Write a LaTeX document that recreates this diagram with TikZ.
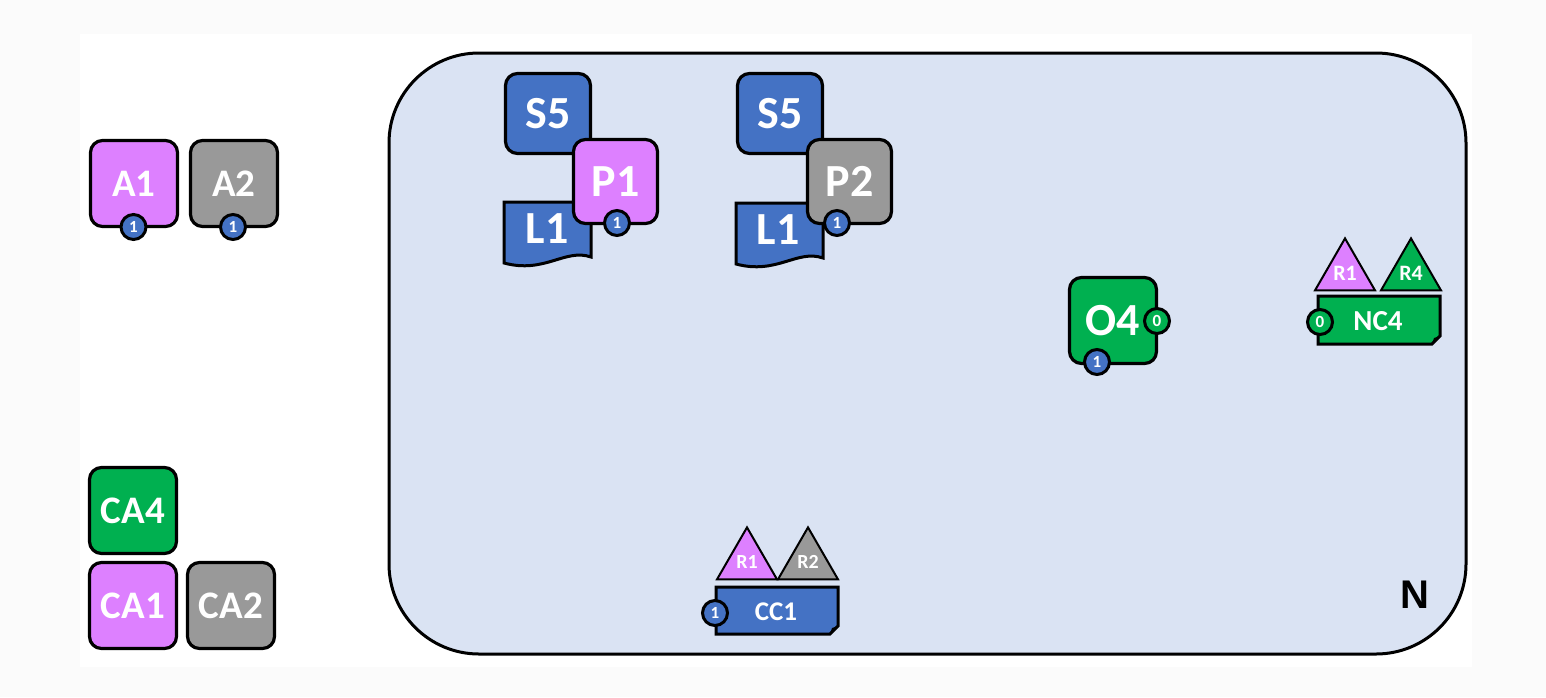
\documentclass[tikz,border=0pt]{standalone}
\usepackage{fontspec}
\setmainfont{Carlito}
\newfontfamily\arialfont{Liberation Sans}
\usepackage{tikz}
\usetikzlibrary{shapes.geometric}
\definecolor{lilac}{RGB}{221,128,255}
\definecolor{slate}{RGB}{153,153,153}
\definecolor{azure}{RGB}{68,114,196}
\definecolor{leaf}{RGB}{0,176,80}
\definecolor{netfill}{RGB}{218,227,243}
\definecolor{outer}{RGB}{251,251,251}
\tikzset{
  tile/.style={draw,line width=1.6pt,rounded corners=6pt,minimum width=43.5pt,minimum height=43pt,inner sep=0pt,text=white,font=\bfseries\fontsize{19.5}{19.5}\selectfont},
  bigtile/.style={tile,font=\bfseries\fontsize{23}{23}\selectfont},
  badge/.style={circle,draw,line width=1.5pt,fill=azure,minimum size=12.5pt,inner sep=0pt,text=white,font=\bfseries\fontsize{8.5}{8.5}\selectfont},
  tri/.style={regular polygon,regular polygon sides=3,draw,line width=1pt,minimum size=34.6pt,inner sep=0pt,text=white,font=\bfseries\fontsize{10}{10}\selectfont},
  card/.style={draw,line width=1.5pt},
  cardtext/.style={text=white,font=\bfseries\fontsize{13.5}{13.5}\selectfont}
}
\begin{document}
\begin{tikzpicture}[x=0.5pt,y=-0.5pt]
  \fill[outer] (0,0) rectangle (1546,697);
  \fill[white] (80,34) rectangle (1472,667);
  \draw[line width=1.5pt,fill=netfill,rounded corners=45pt] (389,53) rectangle (1466,654);
  \node[font=\arialfont\bfseries\fontsize{20}{20}\selectfont] (n) at (1415,595) {N};

  \node[tile,fill=lilac] (a1) at (134,183.5) {A1};
  \node[tile,fill=slate] (a2) at (234,183.5) {A2};
  \node[badge] (a1b) at (133.5,227) {1};
  \node[badge] (a2b) at (233,227) {1};
  \node[tile,fill=leaf] (ca4) at (133,510.5) {CA4};
  \node[tile,fill=lilac] (ca1) at (133,605.5) {CA1};
  \node[tile,fill=slate] (ca2) at (231,605.5) {CA2};

  \node[bigtile,fill=azure,minimum width=42.5pt,minimum height=40pt] (s5a) at (548,113.5) {S5};
  \draw[card,fill=azure] (504,202) -- (591,202) -- (591,257)
        .. controls (565,248) and (545,274) .. (504,263) -- cycle;
  \node[bigtile,draw=none,fill=none] (l1a) at (547,229) {L1};
  \node[bigtile,fill=lilac,minimum width=42pt,minimum height=42pt] (p1) at (615.5,181.5) {P1};
  \node[badge] (p1b) at (617,223) {1};

  \node[bigtile,fill=azure,minimum width=42.5pt,minimum height=40pt] (s5b) at (780,113.5) {S5};
  \draw[card,fill=azure] (736,203) -- (823,203) -- (823,258)
        .. controls (797,249) and (777,275) .. (736,264) -- cycle;
  \node[bigtile,draw=none,fill=none] (l1b) at (778,230) {L1};
  \node[bigtile,fill=slate,minimum width=42pt,minimum height=42pt] (p2) at (849.5,181.5) {P2};
  \node[badge] (p2b) at (837,223) {1};

  \node[bigtile,fill=leaf] (o4) at (1113,320.5) {O4};
  \node[badge,fill=leaf] (o4z) at (1157,321) {0};
  \node[badge] (o4o) at (1097,362) {1};

  \node[tri,fill=lilac,font=\bfseries\fontsize{11}{11}\selectfont] (r1n) at (1345,273) {R1};
  \node[tri,fill=leaf,font=\bfseries\fontsize{11}{11}\selectfont] (r4) at (1411,273) {R4};
  \draw[card,fill=leaf] (1318,296) -- (1440,296) -- (1440,336) -- (1432,344) -- (1318,344) -- cycle;
  \fill (1440,336) -- (1432,344) -- (1434,338) -- cycle;
  \node[cardtext,font=\bfseries\fontsize{14.5}{14.5}\selectfont] (nc4) at (1378,321) {NC4};
  \node[badge,fill=leaf] (nc4b) at (1320,322) {0};

  \node[tri,fill=lilac] (r1c) at (747,562) {R1};
  \node[tri,fill=slate] (r2) at (808,562) {R2};
  \draw[card,fill=azure] (716,587) -- (838,587) -- (838,626) -- (830,634) -- (716,634) -- cycle;
  \fill (838,626) -- (830,634) -- (832,628) -- cycle;
  \node[cardtext] (cc1) at (776,612) {CC1};
  \node[badge] (cc1b) at (715,613) {1};
\end{tikzpicture}
\end{document}
